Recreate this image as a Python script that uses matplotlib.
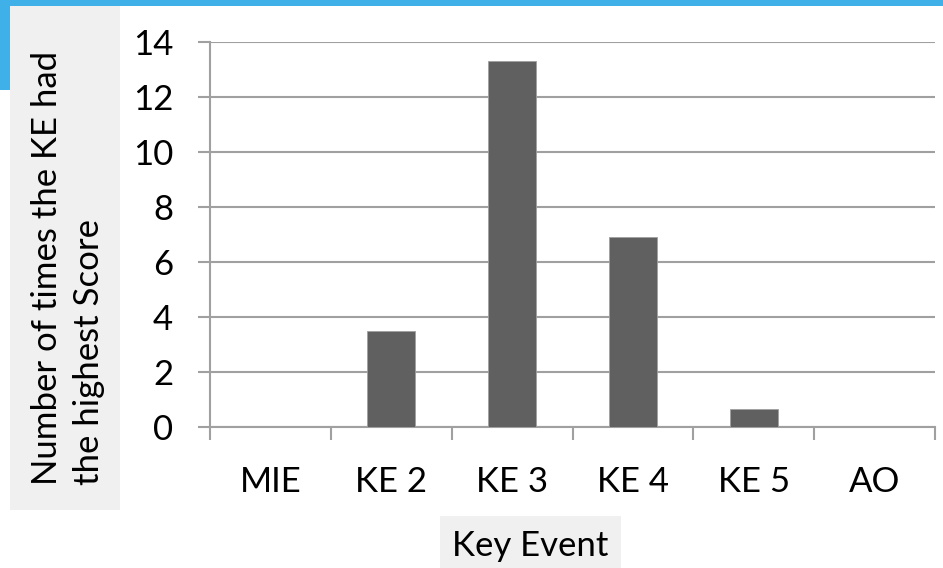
import matplotlib
matplotlib.use("Agg")
import matplotlib.pyplot as plt
from matplotlib.patches import Rectangle

# data
categories = ["MIE", "KE 2", "KE 3", "KE 4", "KE 5", "AO"]
counts = [0, 3.5, 13.3, 6.9, 0.65, 0]
y_ticks = [0, 2, 4, 6, 8, 10, 12, 14]

W, H = 943, 568
plt.rcParams['font.family'] = ['Lato', 'DejaVu Sans']
FS = 25

fig = plt.figure(figsize=(W / 100, H / 100), dpi=100)
fig.patch.set_facecolor("white")

# blue band at the top and the short strip on the left
fig.patches.append(Rectangle((0, 1 - 6 / H), 1, 6 / H, transform=fig.transFigure,
                             facecolor="#3FB0E8", edgecolor="none", zorder=0))
fig.patches.append(Rectangle((0, 1 - 90 / H), 10 / W, 90 / H, transform=fig.transFigure,
                             facecolor="#3FB0E8", edgecolor="none", zorder=0))
# grey boxes behind the axis titles
fig.patches.append(Rectangle((10 / W, 1 - 510 / H), 110 / W, 504 / H, transform=fig.transFigure,
                             facecolor="#F0F0F0", edgecolor="none", zorder=0))
fig.patches.append(Rectangle((440 / W, 0), 181 / W, 52 / H, transform=fig.transFigure,
                             facecolor="#F0F0F0", edgecolor="none", zorder=0))

ax = fig.add_axes([210 / W, (H - 427) / H, (935 - 210) / W, (427 - 42) / H])
ax.set_facecolor("none")

x = range(len(categories))
ax.bar(x, counts, width=0.4, color="#606060", edgecolor="#A0A0A0", linewidth=0.6, zorder=3)

ax.set_xlim(-0.5, len(categories) - 0.5)
ax.set_ylim(0, 14)
ax.set_yticks(y_ticks)
ax.yaxis.grid(True, color="#A0A0A0", linewidth=1.5, zorder=1)
ax.set_axisbelow(True)

for side in ["top", "right"]:
    ax.spines[side].set_visible(False)
for side in ["left", "bottom"]:
    ax.spines[side].set_color("#A0A0A0")
    ax.spines[side].set_linewidth(1.5)

# category ticks sit between bars, labels centred under bars
ax.set_xticks([i - 0.5 for i in range(len(categories) + 1)])
ax.set_xticklabels([])
ax.set_xticks(list(x), minor=True)
ax.set_xticklabels(categories, minor=True, fontsize=FS)
ax.tick_params(axis="x", which="major", length=9.4, width=1.5, color="#A0A0A0")
ax.tick_params(axis="x", which="minor", length=0, pad=28)
ax.tick_params(axis="y", length=8.6, width=1.5, color="#A0A0A0", labelsize=FS, pad=18)

fig.text(68 / W, 1 - 268 / H, "Number of times the KE had\nthe highest Score", rotation=90,
         ha="center", va="center", multialignment="left", fontsize=FS, linespacing=1.35)
fig.text(530 / W, 1 - 546 / H, "Key Event", ha="center", va="center", fontsize=FS)

fig.savefig("out.png", dpi=100)
